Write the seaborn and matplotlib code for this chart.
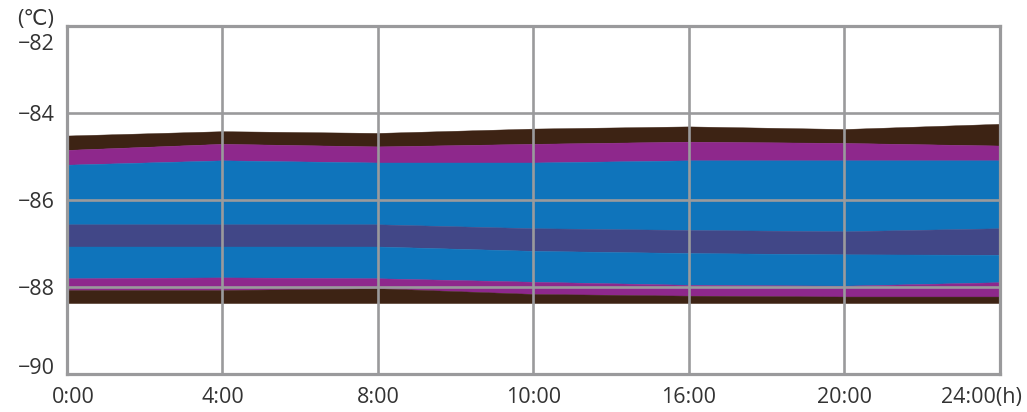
import numpy as np
import pandas as pd
import matplotlib
matplotlib.use("Agg")
import matplotlib.pyplot as plt
import matplotlib.transforms as mtransforms
import seaborn as sns

# time categories (evenly spaced on the chart)
times = ["0:00", "4:00", "8:00", "10:00", "16:00", "20:00", "24:00(h)"]

# band boundaries, top to bottom, in degC
brown_top = [-84.52, -84.42, -84.46, -84.36, -84.31, -84.37, -84.25]
brown_purple = [-84.85, -84.71, -84.77, -84.71, -84.66, -84.69, -84.75]
purple_blue = [-85.19, -85.09, -85.14, -85.14, -85.09, -85.09, -85.09]
blue_indigo = [-86.56, -86.56, -86.56, -86.65, -86.69, -86.72, -86.65]
indigo_blue = [-87.07, -87.07, -87.07, -87.17, -87.22, -87.25, -87.26]
blue_purple = [-87.80, -87.78, -87.80, -87.88, -87.95, -87.97, -87.89]
purple_brown = [-88.07, -88.07, -88.03, -88.16, -88.20, -88.22, -88.22]
brown_bottom = [-88.37, -88.37, -88.37, -88.37, -88.37, -88.37, -88.37]

yticks = [-90, -88, -86, -84, -82]

BROWN = "#3d2314"
PURPLE = "#8e288c"
BLUE = "#0f74bb"
INDIGO = "#414787"
GRID = "#9a9a9c"


def shift(label, fig, dx_px, dy_px):
    offset = mtransforms.ScaledTranslation(dx_px / 100, dy_px / 100, fig.dpi_scale_trans)
    label.set_transform(label.get_transform() + offset)


def main():
    sns.set_style("white")
    plt.rcParams["font.family"] = ["Open Sans", "DejaVu Sans"]

    df = pd.DataFrame({
        "time": times,
        "b0": brown_top, "b1": brown_purple, "b2": purple_blue,
        "b3": blue_indigo, "b4": indigo_blue, "b5": blue_purple,
        "b6": purple_brown, "b7": brown_bottom,
    })
    x = np.arange(len(df))

    fig = plt.figure(figsize=(10.27, 4.12), dpi=100)
    ax = fig.add_axes([0.0652, 0.0922, 0.9085, 0.845])

    bands = [("b0", "b1", BROWN), ("b1", "b2", PURPLE), ("b2", "b3", BLUE),
             ("b3", "b4", INDIGO), ("b4", "b5", BLUE), ("b5", "b6", PURPLE),
             ("b6", "b7", BROWN)]
    for upper, lower, color in bands:
        ax.fill_between(x, df[lower], df[upper], color=color, linewidth=0.3,
                        edgecolor=color, zorder=1)

    ax.set_xlim(0, len(df) - 1)
    ax.set_ylim(-90, -82)
    ax.set_xticks(x)
    ax.set_xticklabels(df["time"])
    ax.set_yticks(yticks)
    ax.set_yticklabels([str(v).replace("-", "\u2212") for v in yticks])

    ax.set_axisbelow(False)
    ax.grid(True, color=GRID, linewidth=1.9, zorder=3)
    for side in ["left", "right", "top", "bottom"]:
        ax.spines[side].set_color(GRID)
        ax.spines[side].set_linewidth(2.3)
        ax.spines[side].set_zorder(4)

    ax.tick_params(axis="both", length=0, labelsize=15.5, labelcolor="#333333")
    ax.tick_params(axis="x", pad=9)
    ax.tick_params(axis="y", pad=9)

    # nudge end labels like the original
    xl = ax.get_xticklabels()
    shift(xl[0], fig, 6, 0)
    shift(xl[-1], fig, -19, 0)
    yl = ax.get_yticklabels()
    shift(yl[0], fig, 0, 8)
    shift(yl[-1], fig, 0, -16)

    fig.text(36 / 1027, 1 - 19 / 412, "(\u2103)", ha="center", va="center",
             fontsize=15.5, color="#333333")

    fig.savefig("out.png", dpi=100)


if __name__ == "__main__":
    main()
